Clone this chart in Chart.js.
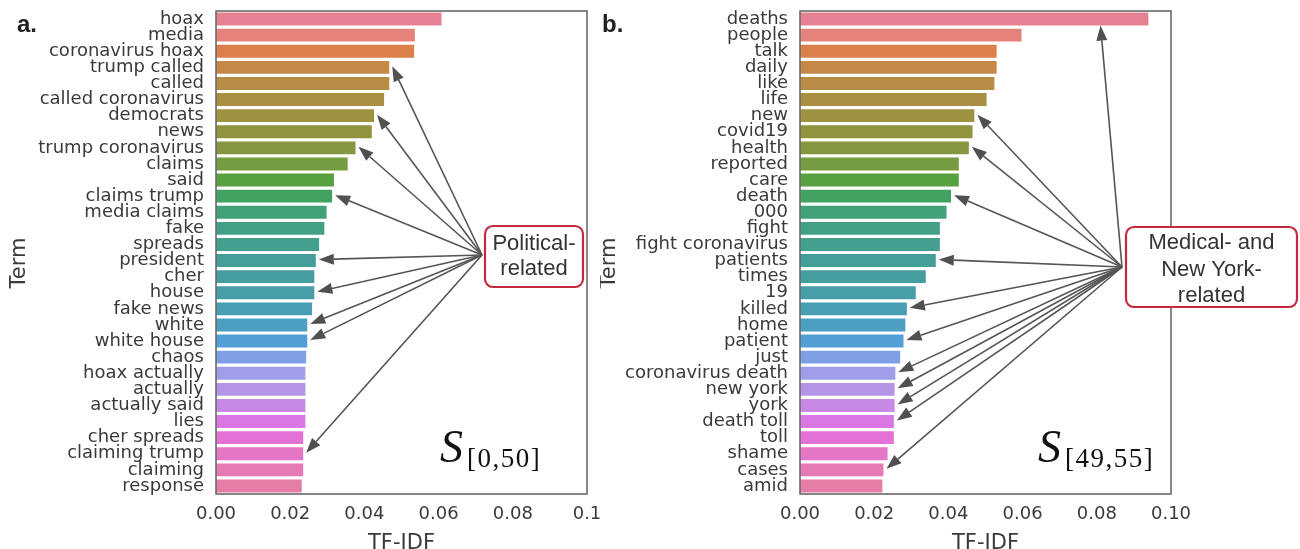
<!DOCTYPE html>
<html>
<head>
<meta charset="utf-8">
<script src="https://cdn.jsdelivr.net/npm/chart.js@4/dist/chart.umd.min.js"></script>
<style>
  html, body { margin: 0; padding: 0; background: #fff; width: 1300px; height: 549px; overflow: hidden; }
  canvas { position: absolute; top: 0; }
  #panelA { left: 0; }
  #panelB { left: 600px; }
</style>
</head>
<body>
<canvas id="panelA" width="600" height="549"></canvas>
<canvas id="panelB" width="700" height="549"></canvas>
<script>
// ---- data: top TF-IDF terms per sentiment window ----
const termsA = ['hoax', 'media', 'coronavirus hoax', 'trump called', 'called', 'called coronavirus',
  'democrats', 'news', 'trump coronavirus', 'claims', 'said', 'claims trump', 'media claims', 'fake',
  'spreads', 'president', 'cher', 'house', 'fake news', 'white', 'white house', 'chaos',
  'hoax actually', 'actually', 'actually said', 'lies', 'cher spreads', 'claiming trump', 'claiming', 'response'];
const tfidfA = [0.0608, 0.0536, 0.0534, 0.0467, 0.0467, 0.0453, 0.0426, 0.0420, 0.0376, 0.0355,
  0.0318, 0.0313, 0.0298, 0.0292, 0.0278, 0.0269, 0.0265, 0.0265, 0.0259, 0.0246,
  0.0246, 0.0243, 0.0241, 0.0241, 0.0241, 0.0241, 0.0235, 0.0235, 0.0235, 0.0231];

const termsB = ['deaths', 'people', 'talk', 'daily', 'like', 'life', 'new', 'covid19', 'health',
  'reported', 'care', 'death', '000', 'fight', 'fight coronavirus', 'patients', 'times', '19',
  'killed', 'home', 'patient', 'just', 'coronavirus death', 'new york', 'york', 'death toll',
  'toll', 'shame', 'cases', 'amid'];
const tfidfB = [0.0939, 0.0597, 0.0530, 0.0530, 0.0524, 0.0503, 0.0470, 0.0465, 0.0455, 0.0428,
  0.0428, 0.0407, 0.0395, 0.0377, 0.0377, 0.0366, 0.0339, 0.0312, 0.0288, 0.0284,
  0.0279, 0.0270, 0.0257, 0.0255, 0.0255, 0.0253, 0.0253, 0.0236, 0.0225, 0.0222];

const tickLabelsA = ['0.00', '0.02', '0.04', '0.06', '0.08', '0.1'];
const tickLabelsB = ['0.00', '0.02', '0.04', '0.06', '0.08', '0.10'];

// terms pointed at by the callout arrows
const politicalTerms = ['trump called', 'democrats', 'trump coronavirus', 'claims trump', 'president',
  'house', 'white', 'white house', 'claiming trump'];
const medicalTerms = ['deaths', 'new', 'health', 'death', 'patients', 'killed', 'patient',
  'coronavirus death', 'new york', 'york', 'death toll', 'cases'];

// ---- HUSL palette (same maths as seaborn.husl_palette) ----
const M = [[3.240969941904521, -1.537383177570093, -0.498610760293],
           [-0.96924363628087, 1.87596750150772, 0.041555057407175],
           [0.055630079696993, -0.20397695888897, 1.056971514242878]];
const refU = 0.19783000664283681, refV = 0.468319994938791;
const kappa = 903.2962962962963, eps = 0.0088564516790356;

function lightBounds(L) {
  const sub1 = Math.pow(L + 16, 3) / 1560896;
  const sub2 = sub1 > eps ? sub1 : L / kappa;
  const out = [];
  for (const [m1, m2, m3] of M) {
    for (const t of [0, 1]) {
      const top1 = (284517 * m1 - 94839 * m3) * sub2;
      const top2 = (838422 * m3 + 769860 * m2 + 731718 * m1) * L * sub2 - 769860 * t * L;
      const bottom = (632260 * m3 - 126452 * m2) * sub2 + 126452 * t;
      out.push([top1 / bottom, top2 / bottom]);
    }
  }
  return out;
}
function maxChroma(L, H) {
  const hr = H / 360 * 2 * Math.PI;
  let min = Infinity;
  for (const [s, i] of lightBounds(L)) {
    const len = i / (Math.sin(hr) - s * Math.cos(hr));
    if (len >= 0) min = Math.min(min, len);
  }
  return min;
}
function huslToRgb(H, S, L) {
  const C = maxChroma(L, H) / 100 * S;
  const hr = H / 360 * 2 * Math.PI;
  const U = C * Math.cos(hr), V = C * Math.sin(hr);
  const Y = L <= 8 ? L / kappa : Math.pow((L + 16) / 116, 3);
  const vu = U / (13 * L) + refU, vv = V / (13 * L) + refV;
  const X = 0 - (9 * Y * vu) / ((vu - 4) * vv - vu * vv);
  const Z = (9 * Y - 15 * vv * Y - vv * X) / (3 * vv);
  return M.map(r => {
    const c = r[0] * X + r[1] * Y + r[2] * Z;
    const g = c <= 0.0031308 ? 12.92 * c : 1.055 * Math.pow(c, 1 / 2.4) - 0.055;
    return Math.min(1, Math.max(0, g));
  });
}
function desaturate([r, g, b], prop) {
  const mx = Math.max(r, g, b), mn = Math.min(r, g, b);
  const l = (mx + mn) / 2;
  if (mx === mn) return [r, g, b];
  const d = mx - mn;
  let s = l <= 0.5 ? d / (mx + mn) : d / (2 - mx - mn);
  const rc = (mx - r) / d, gc = (mx - g) / d, bc = (mx - b) / d;
  let h = r === mx ? bc - gc : (g === mx ? 2 + rc - bc : 4 + gc - rc);
  h = ((h / 6) % 1 + 1) % 1;
  s *= prop;
  const m2 = l <= 0.5 ? l * (1 + s) : l + s - l * s;
  const m1 = 2 * l - m2;
  const v = hh => {
    hh = ((hh % 1) + 1) % 1;
    if (hh < 1 / 6) return m1 + (m2 - m1) * hh * 6;
    if (hh < 0.5) return m2;
    if (hh < 2 / 3) return m1 + (m2 - m1) * (2 / 3 - hh) * 6;
    return m1;
  };
  return [v(h + 1 / 3), v(h), v(h - 1 / 3)];
}
function palette(n) {
  const out = [];
  for (let i = 0; i < n; i++) {
    const h = ((i / n + 0.01) % 1) * 359;
    const rgb = desaturate(huslToRgb(h, 0.9 * 99, 0.65 * 99), 0.75);
    out.push('rgb(' + rgb.map(c => Math.round(c * 255)).join(',') + ')');
  }
  return out;
}

// ---- drawing helpers ----
const INK = '#3a3a3a';
function arrow(ctx, x0, y0, x1, y1) {
  const a = Math.atan2(y1 - y0, x1 - x0);
  const L = 15, W = 5.5;
  const bx = x1 - L * Math.cos(a), by = y1 - L * Math.sin(a);
  ctx.beginPath(); ctx.moveTo(x0, y0); ctx.lineTo(bx, by); ctx.stroke();
  ctx.beginPath();
  ctx.moveTo(x1, y1);
  ctx.lineTo(bx + W * Math.sin(a), by - W * Math.cos(a));
  ctx.lineTo(bx - W * Math.sin(a), by + W * Math.cos(a));
  ctx.closePath(); ctx.fill();
}
function roundRect(ctx, x, y, w, h, r) {
  ctx.beginPath();
  ctx.moveTo(x + r, y);
  ctx.arcTo(x + w, y, x + w, y + h, r);
  ctx.arcTo(x + w, y + h, x, y + h, r);
  ctx.arcTo(x, y + h, x, y, r);
  ctx.arcTo(x, y, x + w, y, r);
  ctx.closePath();
}

const decorations = {
  id: 'decorations',
  afterDatasetsDraw(chart, args, o) {
    const ctx = chart.ctx, ca = chart.chartArea;
    const xs = chart.scales.x, ys = chart.scales.y;
    const terms = chart.data.labels, vals = chart.data.datasets[0].data;
    ctx.save();
    // axes frame
    ctx.strokeStyle = '#6a6a6a'; ctx.lineWidth = 1.6;
    ctx.strokeRect(ca.left, ca.top, ca.right - ca.left, ca.bottom - ca.top);

    // panel letter
    ctx.fillStyle = '#222';
    ctx.font = 'bold 24px "Liberation Sans"';
    ctx.textAlign = 'left'; ctx.textBaseline = 'alphabetic';
    ctx.fillText(o.letter, o.letterX, 32);

    // axis titles
    ctx.fillStyle = INK;
    ctx.font = '21px "DejaVu Sans"';
    ctx.textAlign = 'center';
    ctx.fillText('TF-IDF', (ca.left + ca.right) / 2, 549);
    ctx.save();
    ctx.translate(o.termX, 263); ctx.rotate(-Math.PI / 2);
    ctx.textBaseline = 'middle';
    ctx.fillText('Term', 0, 0);
    ctx.restore();

    // callout arrows
    ctx.strokeStyle = '#555'; ctx.fillStyle = '#505050'; ctx.lineWidth = 1.6;
    const band = ys.getPixelForValue(1) - ys.getPixelForValue(0);
    for (const t of o.targets) {
      const i = terms.indexOf(t);
      const yc = ys.getPixelForValue(i);
      let tx = xs.getPixelForValue(vals[i]) + 3, ty = yc - 1;
      if (tx > o.origin[0]) { // bar reaches past the callout: point up at its underside
        tx = xs.getPixelForValue(o.underX);
        ty = yc + band * 0.4;
      }
      arrow(ctx, o.origin[0], o.origin[1], tx, ty);
    }

    // callout box
    const b = o.box;
    roundRect(ctx, b.x, b.y, b.w, b.h, 8);
    ctx.fillStyle = '#fff'; ctx.fill();
    ctx.strokeStyle = '#c12b3d'; ctx.lineWidth = 2.2; ctx.stroke();
    ctx.fillStyle = '#333';
    ctx.font = '22px "Liberation Sans"';
    ctx.textAlign = 'center'; ctx.textBaseline = 'alphabetic';
    b.lines.forEach((ln, k) => ctx.fillText(ln, b.x + b.w / 2, b.base[k]));

    // window symbol S with subscript
    ctx.fillStyle = '#111';
    ctx.textAlign = 'left';
    ctx.font = 'italic 46px "Liberation Serif"';
    ctx.fillText('S', o.sX, 462);
    ctx.font = '27px "Liberation Serif"';
    ctx.letterSpacing = '1.5px';
    ctx.fillText(o.sub, o.sX + 27, 467);
    ctx.letterSpacing = '0px';
    ctx.restore();
  }
};

function makePanel(id, terms, values, tickLabels, yWidth, padRight, deco) {
  new Chart(document.getElementById(id), {
    type: 'bar',
    data: {
      labels: terms,
      datasets: [{ data: values, backgroundColor: palette(terms.length), borderWidth: 0,
                   barPercentage: 0.8, categoryPercentage: 1.0 }]
    },
    options: {
      indexAxis: 'y',
      responsive: false,
      animation: false,
      devicePixelRatio: 1,
      layout: { padding: { top: 11, right: padRight, bottom: 0, left: 0 } },
      plugins: { legend: { display: false }, tooltip: { enabled: false }, decorations: deco },
      scales: {
        x: {
          type: 'linear', min: 0, max: 0.1,
          grid: { display: false, drawTicks: false }, border: { display: false },
          ticks: { stepSize: 0.02, padding: 10, color: INK,
                   font: { family: 'DejaVu Sans', size: 18 },
                   callback: (v, i) => tickLabels[i] },
          afterFit: s => { s.height = 55; s.paddingLeft = 0; s.paddingRight = 0; }
        },
        y: {
          type: 'category',
          grid: { display: false, drawTicks: false }, border: { display: false },
          ticks: { autoSkip: false, padding: 12, color: INK,
                   font: { family: 'DejaVu Sans', size: 18 } },
          afterFit: s => { s.width = yWidth; s.paddingTop = 0; s.paddingBottom = 0; }
        }
      }
    },
    plugins: [decorations]
  });
}

makePanel('panelA', termsA, tfidfA, tickLabelsA, 216, 13, {
  letter: 'a.', letterX: 17, termX: 20,
  targets: politicalTerms, origin: [482, 255], underX: 0.08,
  box: { x: 485, y: 226, w: 98, h: 61, lines: ['Political-', 'related'], base: [250, 275] },
  sX: 440, sub: '[0,50]'
});
makePanel('panelB', termsB, tfidfB, tickLabelsB, 200, 129, {
  letter: 'b.', letterX: 2, termX: 10,
  targets: medicalTerms, origin: [522, 267], underX: 0.081,
  box: { x: 526, y: 227, w: 171, h: 80, lines: ['Medical- and', 'New York-', 'related'], base: [249, 276, 302] },
  sX: 438, sub: '[49,55]'
});
</script>
</body>
</html>
